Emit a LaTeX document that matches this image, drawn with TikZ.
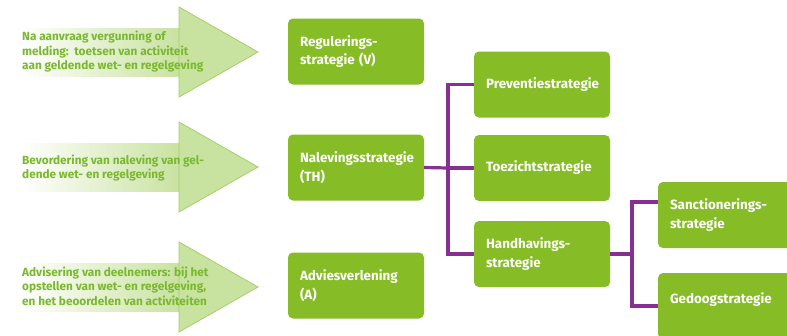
\documentclass[tikz,border=0pt]{standalone}
\usepackage{fontspec}
\setmainfont{Fira Sans}
\definecolor{boxgreen}{RGB}{134,188,37}
\definecolor{arrowlight}{RGB}{200,226,160}
\definecolor{arrowedge}{RGB}{165,208,105}
\definecolor{textgreen}{RGB}{122,184,45}
\definecolor{linepurple}{RGB}{136,48,146}
\begin{document}
\begin{tikzpicture}[x=1pt, y=-1pt,
    box/.style={fill=boxgreen, rounded corners=5pt, minimum width=136pt, minimum height=66pt,
      inner xsep=12pt, text width=112pt, align=left, text=white, font=\bfseries\fontsize{13.4}{18.5}\selectfont},
    arrowtext/.style={anchor=west, align=left, text=textgreen, inner sep=0pt, font=\bfseries\fontsize{11.8}{14.5}\selectfont},
    link/.style={linepurple, line width=3.2pt}]
    \useasboundingbox (0,0) rectangle (787,335);

    % Arrows
    \foreach \y in {52,167,287} {
      \shade[left color=white, right color=arrowlight] (20,\y-24) rectangle (180,\y+24);
      \filldraw[fill=arrowlight, draw=arrowedge, line width=0.8pt] (179,\y-45) -- (258,\y) -- (179,\y+45) -- cycle;
    }
    \node[arrowtext] (T1) at (22, 52) {Na aanvraag vergunning of\\melding:\ \ toetsen van activiteit\\aan geldende wet- en regelgeving};
    \node[arrowtext] (T2) at (22, 168) {Bevordering van naleving van gel-\\dende wet- en regelgeving};
    \node[arrowtext] (T3) at (22, 286) {Advisering van deelnemers: bij het\\opstellen van wet- en regelgeving,\\en het beoordelen van activiteiten};

    % Strategies
    \node[box] (V) at (356, 51.5) {Regulerings-\\strategie (V)};
    \node[box] (TH) at (356, 167.5) {Nalevingsstrategie\\(TH)};
    \node[box] (A) at (356, 285.5) {Adviesverlening\\(A)};

    \node[box] (Prev) at (542, 84.5) {Preventiestrategie};
    \node[box] (Toez) at (542, 168) {Toezichtstrategie};
    \node[box] (Handh) at (542, 254) {Handhavings-\\strategie};

    \node[box] (Sanct) at (726, 215) {Sanctionerings-\\strategie};
    \node[box, text depth=16pt] (Gedoog) at (726, 306) {Gedoogstrategie};

    % Links
    \coordinate (J1) at (448, 168);
    \coordinate (J2) at (632, 254);
    \draw[link] (TH.east) -- (J1);
    \draw[link] (J1) |- (Prev.west);
    \draw[link] (J1) -- (Toez.west);
    \draw[link] (J1) |- (Handh.west);
    \draw[link] (Handh.east) -- (J2);
    \draw[link] (J2) |- ([yshift=13pt]Sanct.west);
    \draw[link] (J2) |- (Gedoog.west);
  \end{tikzpicture}
\end{document}
